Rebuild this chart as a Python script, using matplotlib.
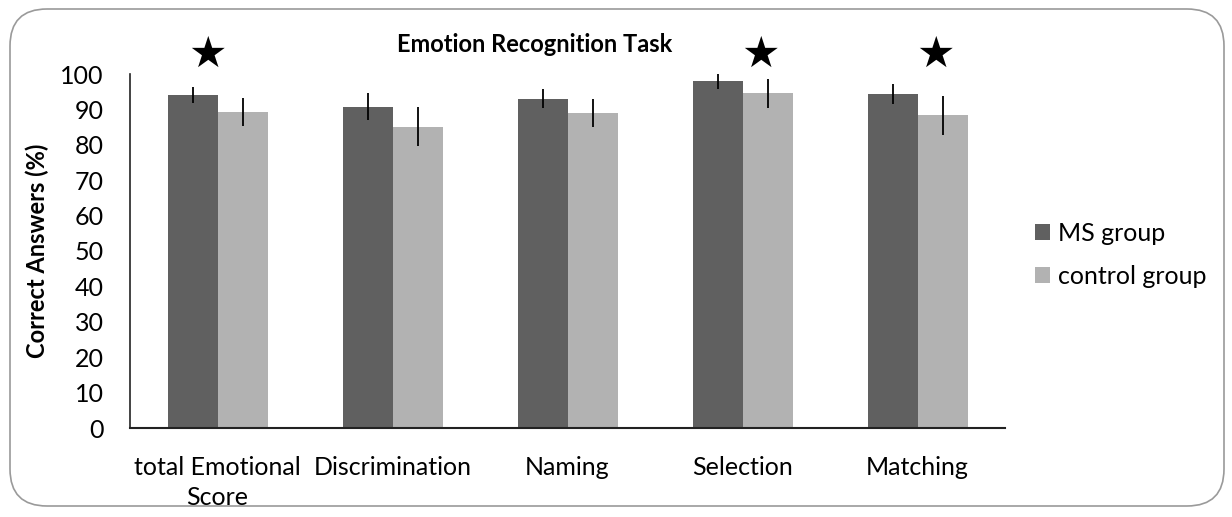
import numpy as np
import matplotlib
matplotlib.use("Agg")
import matplotlib.pyplot as plt
from matplotlib.patches import FancyBboxPatch

plt.rcParams['font.family'] = ['Lato', 'DejaVu Sans']

# data
categories = ["total Emotional\nScore", "Discrimination", "Naming", "Selection", "Matching"]
ms_group = [94.0, 90.8, 93.0, 97.9, 94.3]
ms_err = [2.2, 3.9, 2.7, 2.2, 2.8]
control_group = [89.3, 85.1, 89.0, 94.6, 88.3]
control_err = [3.9, 5.5, 3.9, 4.1, 5.6]
significant = [True, False, False, True, True]
star_offset = [-0.06, 0, 0, 0.1, 0.1]

fig = plt.figure(figsize=(12.32, 5.17), dpi=100)
ax = fig.add_axes([130/1232, 89/517, 875/1232, 354/517])

# rounded chart border
border = FancyBboxPatch((10/1232, 11/517), 1214/1232, 497/517,
                        boxstyle="round,pad=0,rounding_size=0.03",
                        transform=fig.transFigure, facecolor="white",
                        edgecolor="#9a9a9a", linewidth=1.2, zorder=-10,
                        mutation_aspect=1232/517)
fig.patches.append(border)

x = np.arange(len(categories))
w = 50/175

ax.bar(x - w/2, ms_group, w, color="#606060", label="MS group",
       yerr=ms_err, error_kw=dict(ecolor="black", elinewidth=1.3, capsize=0))
ax.bar(x + w/2, control_group, w, color="#b2b2b2", label="control group",
       yerr=control_err, error_kw=dict(ecolor="black", elinewidth=1.3, capsize=0))

for i, sig in enumerate(significant):
    if sig:
        ax.text(x[i] + star_offset[i], 105.3, "★", ha="center", va="center",
                fontsize=31, family="DejaVu Sans", clip_on=False)

ax.set_xlim(-0.5, len(categories) - 0.5)
ax.set_ylim(0, 100)
ax.set_yticks(range(0, 101, 10))
ax.set_xticks(x)
ax.set_xticklabels(categories, fontsize=18, linespacing=1.4)
ax.tick_params(axis="both", length=0, labelsize=18, colors="black")
ax.tick_params(axis="y", pad=19)
ax.tick_params(axis="x", pad=20)

for s in ["top", "right"]:
    ax.spines[s].set_visible(False)
ax.spines["left"].set_color("#222222")
ax.spines["bottom"].set_color("#222222")
ax.spines["left"].set_linewidth(1.2)
ax.spines["bottom"].set_linewidth(1.5)

ax.set_ylabel("Correct Answers (%)", fontsize=17, fontweight="bold", labelpad=8)
fig.text(535/1232, 1 - 44/517, "Emotion Recognition Task", ha="center", va="center",
         fontsize=17, fontweight="bold")

ax.legend(loc="center left", bbox_to_anchor=(1035/1232, 1 - 255/517),
          bbox_transform=fig.transFigure, frameon=False, borderpad=0,
          borderaxespad=0, fontsize=18, handlelength=0.6, handleheight=0.6,
          labelspacing=0.8, handletextpad=0.3)

fig.savefig("out.png", dpi=100)
